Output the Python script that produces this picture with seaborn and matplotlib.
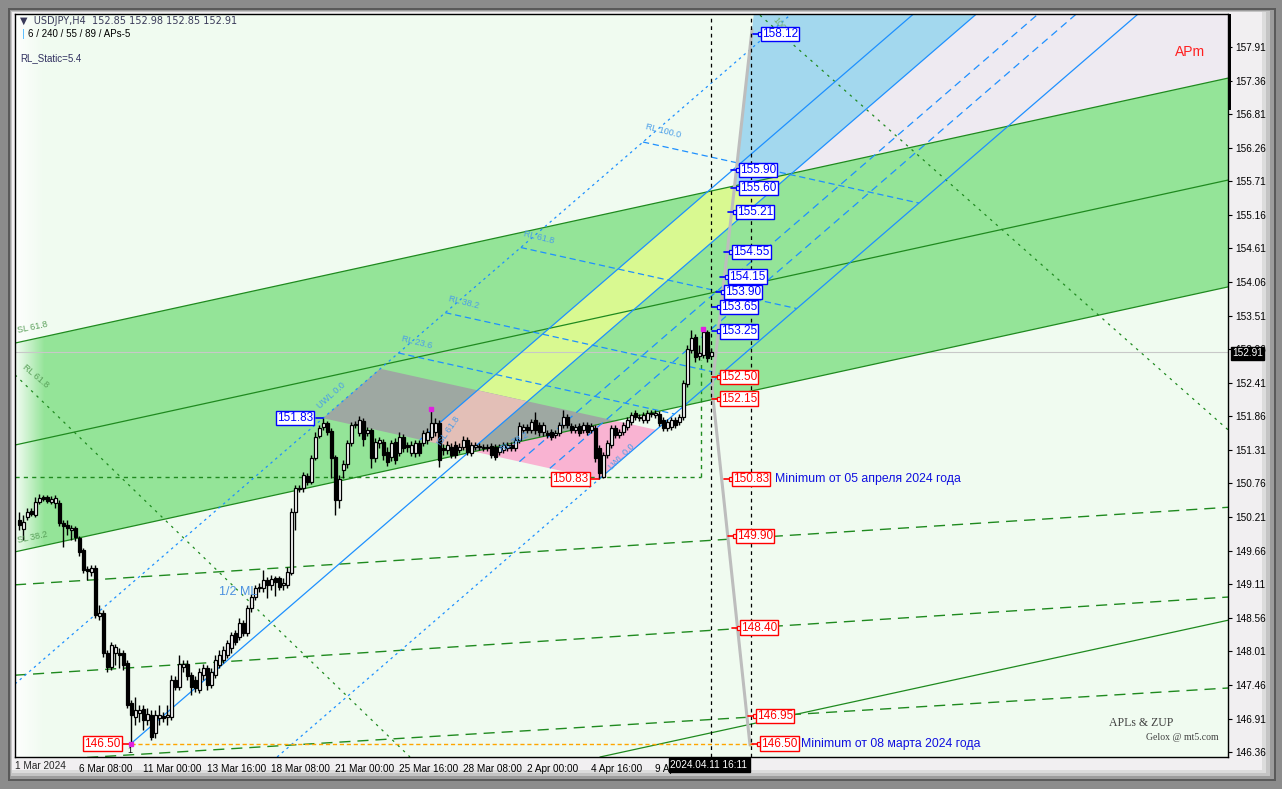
import numpy as np
import matplotlib
matplotlib.use("Agg")
import matplotlib.pyplot as plt
import seaborn as sns
from matplotlib.patches import Polygon, Rectangle

sns.set_theme(style="white")
plt.rcParams['font.family'] = ['Liberation Sans', 'DejaVu Sans']

# ---------------- candle data (bar index 0 = 1 Mar 20:00, H4 bars) ----------------
opens = [150.16,150.01,150.21,150.31,150.24,150.46,150.54,150.54,150.46,150.44,
         150.44,150.11,150.08,150.00,150.03,149.87,149.67,149.36,149.31,149.37,
         148.59,148.64,147.98,147.75,147.99,147.99,147.99,147.82,147.16,146.93,
         147.00,147.07,146.88,146.97,146.67,146.92,146.95,146.93,146.93,147.54,
         147.43,147.75,147.80,147.62,147.54,147.38,147.62,147.74,147.46,147.62,
         147.79,147.87,147.95,148.06,148.31,148.24,148.47,148.31,148.72,148.90,
         149.05,149.05,149.18,149.10,149.21,149.21,149.10,149.10,149.29,150.29,
         150.67,150.69,150.88,150.78,151.18,151.54,151.68,151.75,151.62,151.19,
         150.49,150.98,151.08,151.42,151.72,151.59,151.78,151.59,151.64,151.18,
         151.42,151.44,151.27,151.19,151.44,151.26,151.52,151.39,151.26,151.26,
         151.42,151.42,151.47,151.52,151.60,151.75,151.34,151.31,151.36,151.39,
         151.31,151.36,151.47,151.26,151.36,151.37,151.34,151.36,151.37,151.36,
         151.27,151.31,151.34,151.39,151.34,151.47,151.64,151.68,151.64,151.80,
         151.72,151.60,151.59,151.60,151.55,151.59,151.72,151.85,151.70,151.64,
         151.70,151.64,151.72,151.64,151.67,151.34,150.87,151.23,151.39,151.67,
         151.55,151.60,151.68,151.77,151.91,151.83,151.80,151.80,151.91,151.88,
         151.90,151.80,151.67,151.68,151.80,151.77,151.85,152.39,152.95,153.16,
         152.85,152.86,153.24,152.85]
highs = [150.29,150.24,150.36,150.36,150.54,150.59,150.57,150.57,150.56,150.57,
         150.49,150.16,150.16,150.08,150.06,149.90,149.70,149.41,149.42,149.42,
         148.77,148.69,148.03,148.16,148.13,148.06,148.03,147.87,147.21,147.26,
         147.13,147.13,147.08,147.05,147.05,147.13,147.02,147.13,147.62,147.61,
         147.95,147.87,147.87,147.67,147.61,147.74,147.80,147.79,147.74,147.95,
         148.03,148.10,148.20,148.33,148.36,148.56,148.52,148.77,148.95,149.10,
         149.13,149.34,149.23,149.26,149.24,149.24,149.21,149.39,150.36,150.73,
         150.73,150.95,150.93,151.23,151.60,151.72,151.83,151.78,151.67,151.23,
         150.90,151.14,151.47,151.77,151.78,151.87,151.83,151.68,151.67,151.50,
         151.52,151.49,151.36,151.47,151.50,151.60,151.57,151.44,151.46,151.47,
         151.47,151.64,151.67,151.98,151.83,151.80,151.41,151.46,151.42,151.46,
         151.42,151.54,151.52,151.44,151.44,151.42,151.41,151.41,151.42,151.41,
         151.41,151.44,151.44,151.44,151.52,151.77,151.73,151.73,151.82,151.93,
         151.77,151.77,151.64,151.65,151.64,151.77,151.96,151.90,151.75,151.73,
         151.75,151.77,151.77,151.75,151.72,151.39,151.27,151.47,151.72,151.72,
         151.65,151.77,151.85,151.93,151.96,151.90,151.93,151.96,151.96,151.96,
         151.95,151.85,151.82,151.85,151.85,151.90,152.45,153.03,153.27,153.21,
         153.03,153.29,153.27,152.98]
lows =  [150.00,149.83,150.16,150.23,150.21,150.43,150.47,150.44,150.43,150.36,
         150.06,149.72,149.92,149.83,149.82,149.57,149.29,149.18,149.24,148.56,
         148.52,147.92,147.67,147.70,147.79,147.74,147.70,147.08,146.50,146.80,
         146.85,146.72,146.80,146.56,146.59,146.80,146.85,146.80,146.88,147.38,
         147.38,147.67,147.54,147.29,147.34,147.33,147.54,147.38,147.41,147.57,
         147.74,147.82,147.90,147.99,148.11,148.20,148.26,148.26,148.65,148.85,
         148.98,148.98,148.88,149.01,148.92,149.01,149.01,149.05,149.26,150.00,
         150.62,150.62,150.73,150.75,151.14,151.50,151.64,151.55,150.85,150.24,
         150.36,150.85,151.01,151.37,151.67,151.54,151.37,151.54,151.01,151.11,
         151.34,151.14,151.05,151.13,151.08,151.21,151.27,151.27,151.21,151.19,
         151.21,151.37,151.41,151.47,151.54,151.03,151.23,151.24,151.18,151.18,
         151.26,151.31,151.23,151.21,151.31,151.31,151.29,151.29,151.18,151.14,
         151.23,151.26,151.29,151.29,151.29,151.42,151.59,151.59,151.59,151.57,
         151.54,151.54,151.50,151.47,151.50,151.54,151.67,151.67,151.59,151.59,
         151.54,151.59,151.55,151.59,151.11,150.83,150.85,151.18,151.34,151.50,
         151.50,151.55,151.64,151.72,151.80,151.78,151.75,151.75,151.85,151.83,
         151.70,151.62,151.62,151.64,151.67,151.72,151.80,152.34,152.90,152.75,
         152.78,152.81,152.75,152.85]
closes = [150.08,150.13,150.29,150.26,150.46,150.52,150.51,150.47,150.51,150.52,
          150.11,150.06,150.03,150.03,149.88,149.64,149.34,149.33,149.37,148.61,
          148.64,147.98,147.75,148.11,148.08,147.95,147.79,147.13,146.97,147.05,
          147.05,146.88,146.98,146.61,146.97,146.97,146.92,146.97,147.54,147.43,
          147.80,147.80,147.61,147.43,147.41,147.67,147.74,147.46,147.67,147.87,
          147.95,148.03,148.15,148.28,148.16,148.47,148.31,148.72,148.90,149.05,
          149.06,149.18,149.10,149.19,149.15,149.06,149.13,149.31,150.29,150.69,
          150.69,150.90,150.78,151.18,151.52,151.67,151.75,151.60,151.18,150.49,
          150.83,151.08,151.42,151.72,151.73,151.80,151.49,151.64,151.18,151.44,
          151.47,151.23,151.11,151.42,151.14,151.52,151.34,151.36,151.39,151.42,
          151.26,151.59,151.60,151.75,151.75,151.14,151.31,151.39,151.23,151.23,
          151.36,151.47,151.27,151.39,151.39,151.36,151.36,151.34,151.23,151.19,
          151.36,151.39,151.39,151.34,151.47,151.70,151.68,151.64,151.77,151.64,
          151.60,151.72,151.55,151.52,151.59,151.72,151.85,151.72,151.64,151.68,
          151.59,151.72,151.60,151.70,151.18,150.93,151.23,151.42,151.67,151.55,
          151.60,151.72,151.80,151.88,151.85,151.85,151.88,151.91,151.90,151.91,
          151.75,151.67,151.77,151.80,151.72,151.85,152.41,152.96,153.14,152.83,
          152.90,153.24,152.81,152.91]

# ---------------- axis labels ----------------
date_ticks = [15, 31, 47, 63, 79, 95, 111, 127, 143, 159]
date_labels = ["6 Mar 08:00", "11 Mar 00:00", "13 Mar 16:00", "18 Mar 08:00",
               "21 Mar 00:00", "25 Mar 16:00", "28 Mar 08:00", "2 Apr 00:00",
               "4 Apr 16:00", "9 Apr 08:00"]
price_ticks = [146.36 + 0.55 * j for j in range(22)]

# ---------------- drawing objects (bar index, price) ----------------
pivot_low1 = (28, 146.50)
pivot_high = (76, 151.83)
pivot_low2 = (145, 150.83)
median_top = (239, 158.43)
par_shift = (14.25, 0.81)
isl_fraction = 0.34
isl_lower = [0.382, 0.618]
rl_levels = [23.6, 38.2, 61.8, 100.0]
rl_base_bars = 80

green_upper = [(-1, 153.06), (302.25, 157.40)]
green_mid = [(-1, 151.39), (302.25, 155.73)]
green_lower = [(-1, 149.64), (302.25, 153.98)]
dash_levels = [[(-1, 149.10), (302.25, 150.37)],
               [(-1, 147.62), (302.25, 148.90)],
               [(-1, 146.20), (302.25, 147.41)]]
solid_low = [(145.25, 146.28), (302.25, 148.52)]
green_diag1 = [(-1, 152.54), (97.75, 146.28)]
green_diag2 = [(185.25, 158.43), (302.25, 151.64)]
zigzag = [(183.25, 158.19), (173.25, 152.32), (182.75, 146.475)]
level_15083 = 150.87

blue_levels = [158.12, 155.90, 155.60, 155.21, 154.55, 154.15, 153.90, 153.65, 153.25]
blue_pos = [185.75, 180.25, 180.25, 179.5, 178.5, 177.5, 176.5, 175.5, 175.5]
red_levels = [152.50, 152.15, 150.83, 149.90, 148.40, 146.95, 146.50]
red_pos = [175.5, 175.5, 178.5, 179.5, 180.5, 184.5, 185.5]

XMIN, XMAX, YMIN, YMAX = -1, 302.25, 146.28, 158.45
W, H = 1282, 789

fig = plt.figure(figsize=(W / 100, H / 100), dpi=100)
fig.patch.set_facecolor('#8c8c8c')

def frect(x0, y0, x1, y1, color, z=-5):
    fig.add_artist(Rectangle((x0 / W, 1 - y1 / H), (x1 - x0) / W, (y1 - y0) / H,
                             transform=fig.transFigure, facecolor=color,
                             edgecolor='none', zorder=z))

frect(8, 8, 1276, 781, '#5a5a5a')
frect(10, 10, 1274, 779, '#9c9c9c')
frect(11, 11, 1270, 776, '#c4c4c4')
frect(12, 12, 1266, 773, '#dcdcdc')
frect(12, 12, 1262, 770, '#f1eff1')

ax = fig.add_axes([15 / W, 1 - 757 / H, (1228 - 15) / W, (757 - 14) / H])
ax.set_facecolor('#f0fbf0')
ax.set_xlim(XMIN, XMAX)
ax.set_ylim(YMIN, YMAX)
for s in ax.spines.values():
    s.set_color('black')
    s.set_linewidth(1)

# ------------- polygon helpers -------------
def line_at(line, x):
    (x0, y0), (x1, y1) = line
    return y0 + (y1 - y0) * (x - x0) / (x1 - x0)

def clip(poly, a, b, ref):
    def side(p):
        return (b[0] - a[0]) * (p[1] - a[1]) - (b[1] - a[1]) * (p[0] - a[0])
    sref = side(ref)
    out = []
    n = len(poly)
    for i in range(n):
        p, q = poly[i], poly[(i + 1) % n]
        sp, sq = side(p) * sref, side(q) * sref
        if sp >= 0:
            out.append(p)
        if sp * sq < 0:
            t = side(p) / (side(p) - side(q))
            out.append((p[0] + t * (q[0] - p[0]), p[1] + t * (q[1] - p[1])))
    return out

def fill(poly, color, z):
    if len(poly) >= 3:
        ax.add_patch(Polygon(poly, closed=True, facecolor=color, edgecolor='none', zorder=z))

box = [(XMIN, YMIN), (XMAX, YMIN), (XMAX, YMAX), (XMIN, YMAX)]
gmid_ref = (100, line_at(green_mid, 100))
G = clip(clip(box, *green_upper, gmid_ref), *green_lower, gmid_ref)

# pitchfork geometry
slope = (median_top[1] - pivot_low1[1]) / (median_top[0] - pivot_low1[0])
def full(cc):
    return [(XMIN, cc + slope * XMIN), (XMAX, cc + slope * XMAX)]
c_med = pivot_low1[1] - slope * pivot_low1[0]
c_up = pivot_high[1] - slope * pivot_high[0]
c_lo = pivot_low2[1] - slope * pivot_low2[0]
c_isl = c_med + isl_fraction * (c_up - c_med)
median = full(c_med)
isl = full(c_isl)

A = pivot_high
A2 = (A[0] + par_shift[0], A[1] + par_shift[1])
B = pivot_low2
B2 = (B[0] + par_shift[0], B[1] + par_shift[1])
PAR = [A, A2, B2, B]

top_ref = (200, 158.4)
right_ref = (300, 146.5)
left_ref = (0, 158)
Y = clip(G, *isl, right_ref)
Y = clip(Y, *median, left_ref)
Y = clip(Y, A2, B2, top_ref)
above = clip(box, *green_upper, top_ref)
zz = [zigzag[1], zigzag[0]]
CY = clip(clip(above, *zz, (300, 158)), *median, left_ref)
LAV = clip(above, *median, (300, 150))

fill(G, '#94e498', 0.5)
fill(LAV, '#eeeaf1', 0.45)
fill(CY, '#a3d8ee', 0.6)
fill(Y, '#d9f991', 0.6)
par_g = clip(PAR, *green_lower, gmid_ref)
fill(par_g, '#9ea8a2', 0.7)
fill(clip(clip(par_g, *isl, right_ref), *median, left_ref), '#e3bfb7', 0.75)
fill(clip(PAR, *green_lower, (140, 146.5)), '#f9b3d2', 0.7)

grad = np.ones((2, 60, 4))
grad[..., 3] = np.linspace(0.9, 0.0, 60)[None, :]
ax.imshow(grad, extent=(XMIN, 6.5, YMIN, YMAX), aspect='auto', zorder=0.8,
          interpolation='bilinear')

# ------------- lines -------------
def draw(line, color, ls='-', lw=1.0, z=1):
    xs = [p[0] for p in line]
    ys = [p[1] for p in line]
    sns.lineplot(x=xs, y=ys, ax=ax, color=color, linestyle=ls, linewidth=lw,
                 zorder=z, sort=False, estimator=None)

dark_green = '#1f8a1f'
draw(green_upper, dark_green, lw=0.9)
draw(green_mid, dark_green, lw=0.9)
draw(green_lower, dark_green, lw=0.9)
for ln in dash_levels:
    draw(ln, dark_green, ls=(0, (8, 5)), lw=1.0)
draw(solid_low, dark_green, lw=0.9)
draw(green_diag1, dark_green, ls=(0, (2, 4)), lw=0.9)
draw(green_diag2, dark_green, ls=(0, (2, 4)), lw=0.9)
draw([(XMIN, level_15083), (170.5, level_15083)], dark_green, ls=(0, (3, 3)), lw=1.0)
draw([(170.5, level_15083), (170.5, 152.78)], dark_green, ls=(0, (3, 3)), lw=1.0)

blue = '#1e90ff'
def x_at(cc, yv):
    return (yv - cc) / slope
hs = (B[1] - A[1]) / (B[0] - A[0])
c_h = A[1] - hs * A[0]
def x_handle(cc):
    return (cc - c_h) / (hs - slope)

draw([pivot_low1, (x_at(c_med, YMAX), YMAX)], blue, lw=0.9)
draw([(XMIN, c_up + slope * XMIN), (x_at(c_up, YMAX), YMAX)], blue, ls=(0, (2, 3)), lw=0.9)
draw([(x_at(c_lo, YMIN), YMIN), pivot_low2], blue, ls=(0, (2, 3)), lw=0.9)
draw([pivot_low2, (x_at(c_lo, YMAX), YMAX)], blue, lw=0.9)
xi = x_handle(c_isl)
draw([(xi, c_isl + slope * xi), (x_at(c_isl, YMAX), YMAX)], blue, lw=0.9)
for fr in isl_lower:
    cc = c_med + fr * (c_lo - c_med)
    xs0 = x_handle(cc)
    draw([(xs0, cc + slope * xs0), (x_at(cc, YMAX), YMAX)], blue, ls=(0, (6, 4)), lw=0.9)
for lev in rl_levels:
    sx = pivot_high[0] + rl_base_bars * lev / 100
    sy = c_up + slope * sx
    ex = (sy - hs * sx - c_lo) / (slope - hs)
    ey = sy + hs * (ex - sx)
    draw([(sx, sy), (ex, ey)], blue, ls=(0, (5, 3)), lw=0.9)
    ax.text(sx + 0.5, sy + 0.04, f"RL {lev:.1f}", color='#4a9ee8', fontsize=6.5,
            rotation=-14, ha='left', va='bottom', zorder=6)

draw([(XMIN, 152.91), (XMAX, 152.91)], '#c8c8c8', lw=0.8, z=0.9)
draw(zigzag, '#bdbdbd', lw=2.2, z=2)
ax.axvline(173, color='black', ls=(0, (3, 3)), lw=0.9, zorder=2)
ax.axvline(183, color='black', ls=(0, (3, 3)), lw=0.9, zorder=2)
draw([(28, 146.50), (185, 146.50)], '#ffa500', ls=(0, (3, 2)), lw=1.0, z=2)

# ------------- candles -------------
idx = np.arange(len(closes))
o = np.array(opens); c = np.array(closes); h = np.array(highs); l = np.array(lows)
ax.vlines(idx, l, h, color='black', lw=1.0, zorder=4)
up = c >= o
ax.bar(idx[up], (c - o)[up], bottom=o[up], width=0.75, facecolor='white',
       edgecolor='black', linewidth=0.9, zorder=5)
ax.bar(idx[~up], (o - c)[~up], bottom=c[~up], width=0.75, facecolor='black',
       edgecolor='black', linewidth=0.9, zorder=5)
ax.plot([103, 171], [151.98, 153.29], ls='none', marker='s', ms=2.5, color='#e020e0', zorder=6)

# ------------- labels -------------
def plabel(x, y, color, txt):
    ax.plot([x - 2.2, x - 0.3], [y, y], color=color, lw=1.2, zorder=7)
    ax.plot([x - 0.5], [y], marker='s', ms=3, mfc='white', mec=color, mew=0.9, zorder=7)
    ax.text(x, y, txt, color=color, fontsize=8.5, ha='left', va='center', zorder=8,
            bbox=dict(boxstyle='square,pad=0.1', fc='white', ec=color, lw=1))

for v, xp in zip(blue_levels, blue_pos):
    plabel(xp, v, '#0000ff', f"{v:.2f}")
for v, xp in zip(red_levels, red_pos):
    plabel(xp, v, '#ff0000', f"{v:.2f}")
ax.text(189, 150.83, "Minimum от 05 апреля 2024 года", color='#1010e0', fontsize=8.8,
        va='center', ha='left', zorder=8)
ax.text(195.5, 146.50, "Minimum от 08 марта 2024 года", color='#1010e0', fontsize=8.8,
        va='center', ha='left', zorder=8)
for (xx, yy, t, col) in [(64.5, 151.83, "151.83", '#0000ff'),
                         (133.3, 150.83, "150.83", '#ff0000'),
                         (16.3, 146.50, "146.50", '#ff0000')]:
    ax.text(xx, yy, t, color=col, fontsize=8.5, ha='left', va='center', zorder=8,
            bbox=dict(boxstyle='square,pad=0.1', fc='white', ec=col, lw=1))
ax.plot([74.3, 76], [151.83, 151.83], color='#0000ff', lw=1.2, zorder=7)
ax.plot([143, 145], [150.83, 150.83], color='#ff0000', lw=1.2, zorder=7)
ax.plot([26, 28], [146.50, 146.50], color='#ff0000', lw=1.2, zorder=7)
ax.plot([28], [146.50], marker='s', ms=3, color='#e020e0', zorder=7)
ax.text(27.6, 146.38, "1", color='black', fontsize=6.5, ha='center', va='center', zorder=7)

ax.text(289, 157.82, "APm", color='#ff2020', fontsize=10, ha='left', va='center')
ax.text(288.5, 146.83, "APLs & ZUP", color='#404040', fontsize=8.5, ha='right', va='center',
        family=['Liberation Serif'])
ax.text(300, 146.60, "Gelox @ mt5.com", color='#404040', fontsize=7, ha='right', va='center',
        family=['Liberation Serif'])
ax.text(50, 148.98, "1/2 ML", color='#4a90e0', fontsize=9, ha='left', va='center', zorder=6)
ax.text(74, 151.95, "UWL 0.0", color='#4a9ee8', fontsize=6.5, rotation=42, ha='left', va='bottom', zorder=6)
ax.text(147, 150.95, "LWL 0.0", color='#4a9ee8', fontsize=6.5, rotation=45, ha='left', va='bottom', zorder=6)
ax.text(104, 151.35, "ISL 61.8", color='#4a9ee8', fontsize=6.5, rotation=55, ha='left', va='bottom', zorder=6)
ax.text(120, 151.25, "RL 38.2", color='#4a9ee8', fontsize=6.5, rotation=30, ha='left', va='bottom', zorder=6)
ax.text(188, 158.05, "100.0", color='#70b070', fontsize=6.5, rotation=-50, ha='left', va='bottom', zorder=6)
ax.text(-0.5, 153.2, "SL 61.8", color='#5aa05a', fontsize=6.5, rotation=12, ha='left', va='bottom', zorder=6)
ax.text(-0.5, 149.75, "SL 38.2", color='#5aa05a', fontsize=6.5, rotation=12, ha='left', va='bottom', zorder=6)
ax.text(0.5, 152.3, "RL 61.8", color='#5aa05a', fontsize=6.5, rotation=-40, ha='left', va='bottom', zorder=6)

# axes ticks
ax.set_xticks(date_ticks)
ax.set_xticklabels(date_labels, ha='left', fontsize=7.2)
ax.set_yticks(price_ticks)
ax.set_yticklabels([f"{v:.2f}" for v in price_ticks], fontsize=7.2)
ax.yaxis.tick_right()
ax.tick_params(axis='both', direction='out', length=3, width=0.8, colors='black', pad=2)
fig.text(15 / W, 1 - 766 / H, "1 Mar 2024", fontsize=7.2, ha='left', va='center')

# header texts
fig.text(20 / W, 1 - 21 / H, "▼  USDJPY,H4  152.85 152.98 152.85 152.91", fontsize=7,
         color='#3a3a5a', ha='left', va='center', family=['DejaVu Sans'])
fig.text(28 / W, 1 - 34 / H, "6 / 240 / 55 / 89 / APs-5", fontsize=7, color='black', ha='left', va='center')
fig.add_artist(Rectangle((23 / W, 1 - 39 / H), 1.2 / W, 10 / H, transform=fig.transFigure,
                         facecolor='#60c0ff', edgecolor='none'))
fig.text(20 / W, 1 - 58 / H, "RL_Static=5.4", fontsize=7, color='#303060', ha='left', va='center')

fig.text(1232 / W, 1 - 353 / H, "152.91", fontsize=7.2, color='white', ha='left', va='center',
         bbox=dict(boxstyle='square,pad=0.15', fc='black', ec='black'))
fig.text(709 / W, 1 - 765 / H, "2024.04.11 16:11", fontsize=7.2, color='white', ha='center', va='center',
         bbox=dict(boxstyle='square,pad=0.2', fc='black', ec='black'))
fig.add_artist(Rectangle((1228 / W, 1 - 110 / H), 3 / W, 96 / H, transform=fig.transFigure,
                         facecolor='black', edgecolor='none', zorder=5))

fig.savefig("out.png", dpi=100, facecolor=fig.get_facecolor())
